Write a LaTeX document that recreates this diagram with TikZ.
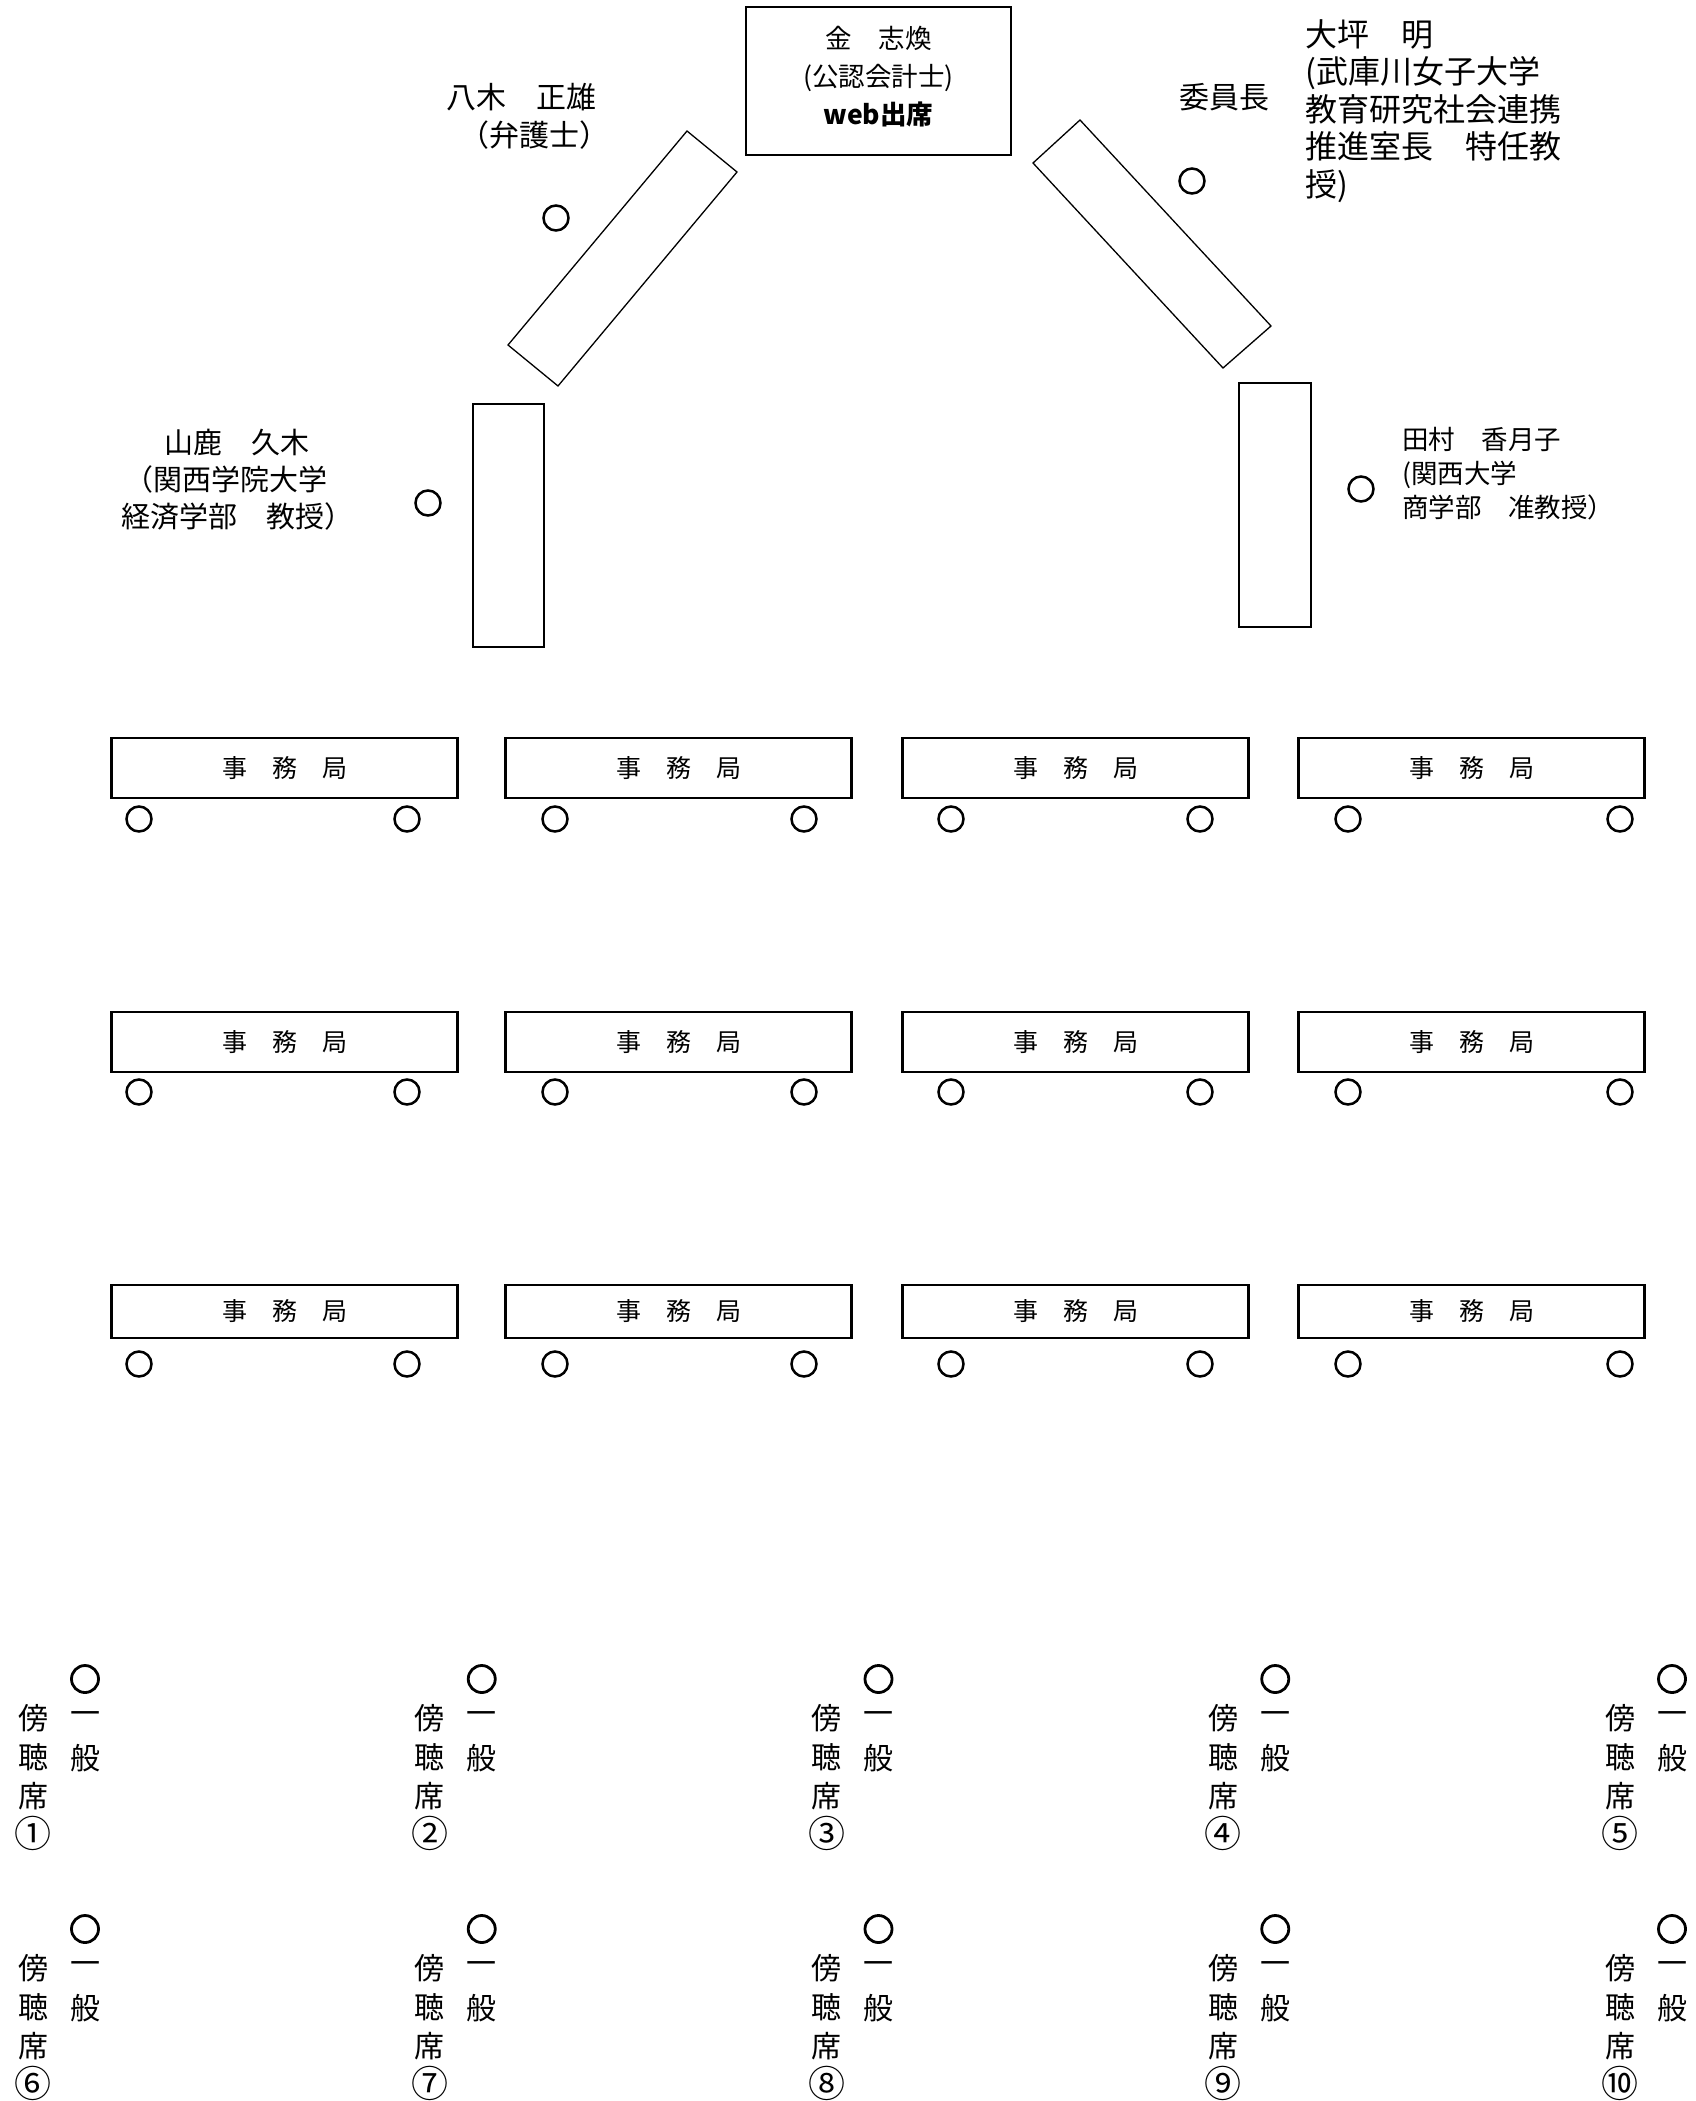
\documentclass[tikz,border=0pt]{standalone}
\usepackage{fontspec}
\setmainfont{Noto Sans CJK JP}
\begin{document}
\begin{tikzpicture}[x=1pt,y=-1pt,
  tbl/.style={draw, line width=1.3pt},
  office/.style={draw, line width=2.3pt, minimum width=346pt, inner sep=0pt,
    font=\fontsize{25}{30}\selectfont},
  seat/.style={circle, draw, line width=2.5pt, minimum size=25pt, inner sep=0pt},
  bseat/.style={circle, draw, line width=2.8pt, minimum size=27pt, inner sep=0pt},
  lbl/.style={inner sep=0pt},
  vch/.style={inner sep=0pt, font=\fontsize{30}{30}\selectfont},
  vnum/.style={inner sep=0pt, font=\fontsize{37}{37}\selectfont}]
\useasboundingbox (0,0) rectangle (1696,2101);

% top box
\node[draw, line width=1.5pt, minimum width=265pt, minimum height=148pt, inner sep=0pt] (kimbox) at (878.5,81) {};
\node[lbl, align=center, font=\fontsize{26.5}{38}\selectfont] (kim) at (878.5,76.5)
  {金　志煥\\(公認会計士)\\\textbf{web出席}};

% tilted tables
\draw[tbl] (687,131) coordinate (lt1) -- (737,172) coordinate (lt2) -- (558,386) coordinate (lt3) -- (508,345) coordinate (lt4) -- cycle;
\draw[tbl] (1080,120) coordinate (rt1) -- (1271,326) coordinate (rt2) -- (1223,368) coordinate (rt3) -- (1033,163) coordinate (rt4) -- cycle;

% vertical tables
\node[tbl, minimum width=71pt, minimum height=243pt, inner sep=0pt] (lv) at (508.5,525.5) {};
\node[tbl, minimum width=72pt, minimum height=244pt, inner sep=0pt] (rv) at (1275,505) {};

% members
\node[lbl, align=center, font=\fontsize{30}{38}\selectfont] (yagi) at (521,116)
  {八木　正雄\\\hspace*{0.45em}（弁護士）\hspace*{-0.45em}};
\node[seat] (syagi) at (556,218) {};
\node[lbl, anchor=west, font=\fontsize{30}{36}\selectfont] (chair) at (1179,97) {委員長};
\node[lbl, anchor=west, align=left, font=\fontsize{32}{37.5}\selectfont] (otsubo) at (1305,111)
  {大坪　明\\(武庫川女子大学\\教育研究社会連携\\推進室長　特任教\\授)};
\node[seat] (sotsubo) at (1192,181) {};
\node[lbl, align=center, font=\fontsize{29}{37}\selectfont] (yamaga) at (237,480)
  {山鹿　久木\\\hspace*{-0.75em}（関西学院大学\hspace*{0.75em}\\経済学部　教授）};
\node[seat] (syamaga) at (428,503) {};
\node[lbl, anchor=west, align=left, font=\fontsize{26.5}{34}\selectfont] (tamura) at (1402,473.5)
  {田村　香月子\\(関西大学\\商学部　准教授）};
\node[seat] (stamura) at (1361,489) {};

% secretariat rows
\foreach \r/\yt/\h/\cy in {1/738/60/819, 2/1012/60/1092, 3/1285/53/1364} {
  \foreach \c/\xl/\sa/\sb in {1/111/139/407, 2/505/555/804, 3/902/951/1200, 4/1298/1348/1620} {
    \node[office, minimum height=\h pt] (off\r\c) at (\xl+173.5,\yt+\h/2) {事　務　局};
    \node[seat] (s\r\c a) at (\sa,\cy) {};
    \node[seat] (s\r\c b) at (\sb,\cy) {};
  }
}

% public gallery
\foreach \c/\r/\d in {0/0/①,1/0/②,2/0/③,3/0/④,4/0/⑤,0/1/⑥,1/1/⑦,2/1/⑧,3/1/⑨,4/1/⑩} {
  \pgfmathsetmacro{\cx}{85+396.75*\c}
  \pgfmathsetmacro{\cy}{1679+250*\r}
  \node[bseat] (g\c\r) at (\cx,\cy) {};
  \node[vch] (ga\c\r) at (\cx-52,\cy+39) {傍};
  \node[vch] (gb\c\r) at (\cx-52,\cy+78) {聴};
  \node[vch] (gc\c\r) at (\cx-52,\cy+117) {席};
  \node[vnum] (gd\c\r) at (\cx-52,\cy+154) {\d};
  \node[vch] (ge\c\r) at (\cx,\cy+39) {一};
  \node[vch] (gf\c\r) at (\cx,\cy+79) {般};
}
\end{tikzpicture}
\end{document}
